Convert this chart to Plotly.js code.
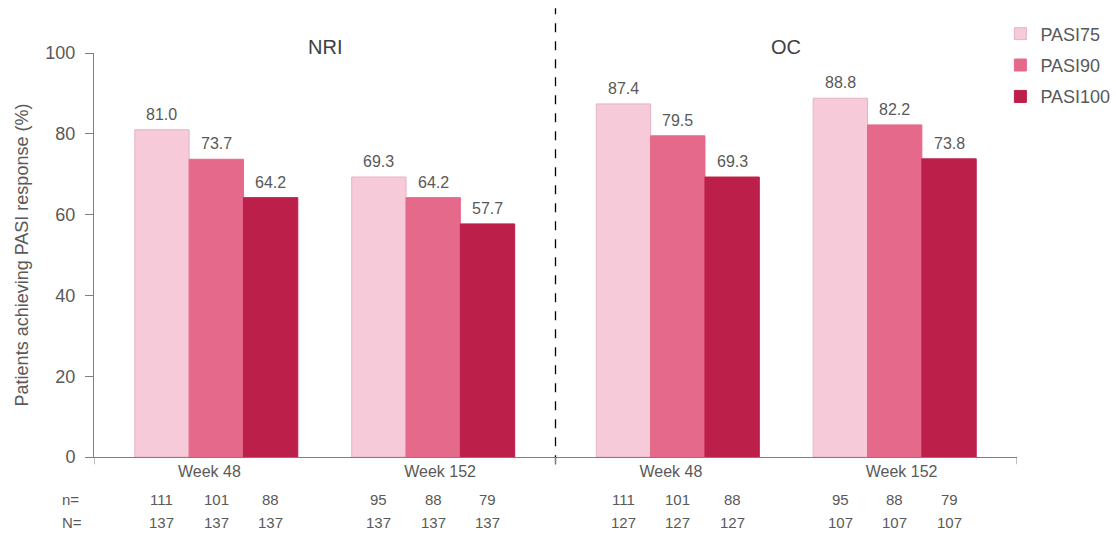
<!DOCTYPE html>
<html>
<head>
<meta charset="utf-8">
<script src="https://cdn.plot.ly/plotly-3.0.1.min.js"></script>
<style>html,body{margin:0;padding:0;background:#fff;}#chart{width:1116px;height:533px;}</style>
</head>
<body>
<div id="chart"></div>
<script>
const groups = ['Week 48', 'Week 152', 'Week 48', 'Week 152'];
const panels = ['NRI', 'OC'];
const seriesNames = ['PASI75', 'PASI90', 'PASI100'];
const pasi75 = [81.0, 69.3, 87.4, 88.8];
const pasi90 = [73.7, 64.2, 79.5, 82.2];
const pasi100 = [64.2, 57.7, 69.3, 73.8];
const nPasi75 = [111, 95, 111, 95];
const nPasi90 = [101, 88, 101, 88];
const nPasi100 = [88, 79, 88, 79];
const bigN = [137, 137, 127, 107];

const colors = ['#f6cad8', '#e5698b', '#bd1f4b'];
const lineColors = ['#e6b3c3', '#e5698b', '#bd1f4b'];
const txt = '#595959';
const font = 'Liberation Sans, Arial, sans-serif';
const xpos = groups.map((g, i) => i);
// bars sit slightly inward within each panel
const inset = 0.03;
const shift = xpos.map(i => (i % 2 === 0 ? inset : -inset));
const barX = xpos.map((x, i) => x + shift[i]);
const values = [pasi75, pasi90, pasi100];
const nvals = [nPasi75, nPasi90, nPasi100];
const w = 0.2355;                       // single bar width in axis units
const minDiff = 1 - 2 * inset;          // smallest spacing between bar positions
const bargap = 1 - 3 * w / minDiff;

const traces = values.map((v, k) => ({
  type: 'bar', name: seriesNames[k], x: barX, y: v,
  legendgroup: 'g' + k,
  marker: {color: colors[k], line: {color: lineColors[k], width: 1}},
  cliponaxis: false, hoverinfo: 'y'
}));

const annotations = [];
values.forEach((v, k) => {
  v.forEach((d, i) => {
    annotations.push({xref: 'x', yref: 'y', x: barX[i] + (k - 1) * w, y: d, text: d.toFixed(1),
      showarrow: false, yanchor: 'bottom', yshift: 5, font: {family: font, size: 16, color: txt}});
  });
});
panels.forEach((p, i) => {
  annotations.push({xref: 'x', yref: 'paper', x: 0.5 + 2 * i, y: 1.015, text: p, showarrow: false,
    font: {family: font, size: 20, color: '#404040'}, yanchor: 'middle'});
});
const rowN = -0.106, rowBigN = -0.161;
annotations.push({xref: 'paper', yref: 'paper', x: -0.037, y: rowN, text: 'n=', showarrow: false, xanchor: 'left', yanchor: 'middle', font: {family: font, size: 15, color: txt}});
annotations.push({xref: 'paper', yref: 'paper', x: -0.037, y: rowBigN, text: 'N=', showarrow: false, xanchor: 'left', yanchor: 'middle', font: {family: font, size: 15, color: txt}});
xpos.forEach((xc, i) => {
  for (let k = 0; k < 3; k++) {
    const xx = barX[i] + (k - 1) * w;
    annotations.push({xref: 'x', yref: 'paper', x: xx, y: rowN, text: String(nvals[k][i]), showarrow: false,
      yanchor: 'middle', font: {family: font, size: 15, color: txt}});
    annotations.push({xref: 'x', yref: 'paper', x: xx, y: rowBigN, text: String(bigN[i]), showarrow: false,
      yanchor: 'middle', font: {family: font, size: 15, color: txt}});
  }
});

const shapes = [
  {type: 'line', xref: 'x', yref: 'paper', x0: 1.5, x1: 1.5, y0: -0.018, y1: 1.111,
   line: {color: '#000', width: 1.3, dash: 'dash'}}
];
[-0.5, 1.5, 3.5].forEach(x => shapes.push({type: 'line', xref: 'x', yref: 'paper', x0: x, x1: x, y0: 0, y1: -0.018,
  line: {color: '#7f7f7f', width: 1}}));

const layout = {
  width: 1116, height: 533,
  margin: {l: 94, r: 99, t: 53, b: 76, autoexpand: false},
  paper_bgcolor: '#fff', plot_bgcolor: '#fff',
  barmode: 'group', bargap: bargap, bargroupgap: 0,
  font: {family: font, color: txt},
  showlegend: true,
  legend: {x: 0.982, y: 1.093, xanchor: 'left', yanchor: 'top', tracegroupgap: 5,
    font: {family: font, size: 18, color: txt}, itemwidth: 30, bgcolor: 'rgba(0,0,0,0)'},
  xaxis: {range: [-0.5, 3.5], tickvals: xpos, ticktext: groups, ticks: '', showline: true,
    linecolor: '#7f7f7f', linewidth: 1, showgrid: false, zeroline: false,
    tickfont: {family: font, size: 16, color: txt}},
  yaxis: {range: [0, 100], dtick: 20, ticks: 'outside', ticklen: 8, tickcolor: '#7f7f7f',
    ticklabelstandoff: 6,
    showline: true, linecolor: '#7f7f7f', linewidth: 1, showgrid: false, zeroline: false,
    tickfont: {family: font, size: 18, color: txt},
    title: {text: 'Patients achieving PASI response (%)', font: {family: font, size: 18, color: txt}, standoff: 12}},
  annotations: annotations, shapes: shapes
};

Plotly.newPlot('chart', traces, layout, {displayModeBar: false, staticPlot: true});
</script>
</body>
</html>
